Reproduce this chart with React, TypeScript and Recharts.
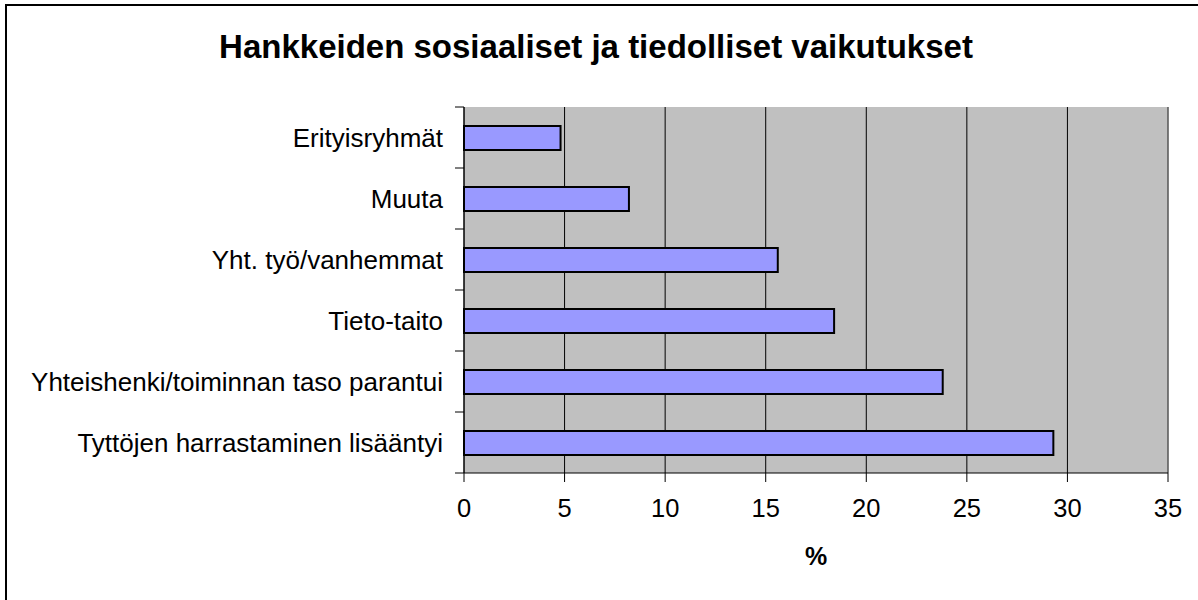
import React from "react";
import {
  Bar,
  BarChart,
  CartesianGrid,
  ReferenceLine,
  XAxis,
  YAxis,
} from "recharts";

const categories = [
  "Erityisryhmät",
  "Muuta",
  "Yht. työ/vanhemmat",
  "Tieto-taito",
  "Yhteishenki/toiminnan taso parantui",
  "Tyttöjen harrastaminen lisääntyi",
];
const percentValues = [4.8, 8.2, 15.6, 18.4, 23.8, 29.3];
const xTicks = [0, 5, 10, 15, 20, 25, 30, 35];

const FONT = '"Liberation Sans", Arial, sans-serif';
const PLOT_TOP = 107;
const PLOT_BOTTOM = 473;
const BAND = (PLOT_BOTTOM - PLOT_TOP) / categories.length;

const chartData = categories.map((name, i) => ({ name, value: percentValues[i] }));

function CategoryTick(props: any) {
  const { x, y, payload, index } = props;
  // tick marks sit between categories, like the original
  const axisX = x + 21;
  return (
    <g>
      <line x1={axisX - 9} x2={axisX} y1={y - BAND / 2} y2={y - BAND / 2} stroke="#000" />
      {index === categories.length - 1 && (
        <line x1={axisX - 9} x2={axisX} y1={y + BAND / 2} y2={y + BAND / 2} stroke="#000" />
      )}
      <text
        x={x}
        y={y}
        textAnchor="end"
        dominantBaseline="central"
        fill="#000"
        fontSize={26}
        fontFamily={FONT}
      >
        {payload.value}
      </text>
    </g>
  );
}

export default function App() {
  return (
    <div style={{ position: "relative", width: 1198, height: 600, overflow: "hidden", background: "#fff" }}>
      <style>{`body{margin:0}`}</style>
      <div
        style={{
          position: "absolute",
          left: 5,
          top: 4,
          width: 1400,
          height: 800,
          border: "2px solid #000",
        }}
      />
      <div style={{ position: "absolute", left: 0, top: 0 }}>
        <BarChart
          width={1198}
          height={600}
          data={chartData}
          layout="vertical"
          margin={{ top: PLOT_TOP, right: 30, left: 0, bottom: 27 }}
          barCategoryGap={0}
        >
          <CartesianGrid fill="#C0C0C0" stroke="#000" horizontal={false} />
          <ReferenceLine x={35} stroke="#808080" />
          <XAxis
            type="number"
            domain={[0, 35]}
            ticks={xTicks}
            interval={0}
            height={100}
            tickSize={9}
            tickMargin={17}
            axisLine={{ stroke: "#000" }}
            tickLine={{ stroke: "#000" }}
            tick={{ fill: "#000", fontSize: 25.5, fontFamily: FONT }}
            label={{
              value: "%",
              position: "insideBottom",
              offset: 8,
              fill: "#000",
              fontSize: 25,
              fontWeight: "bold",
              fontFamily: FONT,
            }}
          />
          <YAxis
            type="category"
            dataKey="name"
            width={464}
            interval={0}
            tickSize={9}
            tickMargin={12}
            tickLine={false}
            axisLine={{ stroke: "#000" }}
            tick={<CategoryTick />}
          />
          <Bar
            dataKey="value"
            fill="#9999FF"
            stroke="#000"
            strokeWidth={2}
            barSize={24}
            isAnimationActive={false}
          />
        </BarChart>
      </div>
      <svg
        width={1198}
        height={600}
        style={{ position: "absolute", left: 0, top: 0, pointerEvents: "none" }}
      >
        <text
          x={596}
          y={58}
          textAnchor="middle"
          fontSize={33}
          fontWeight="bold"
          fontFamily={FONT}
          fill="#000"
        >
          Hankkeiden sosiaaliset ja tiedolliset vaikutukset
        </text>
      </svg>
    </div>
  );
}
